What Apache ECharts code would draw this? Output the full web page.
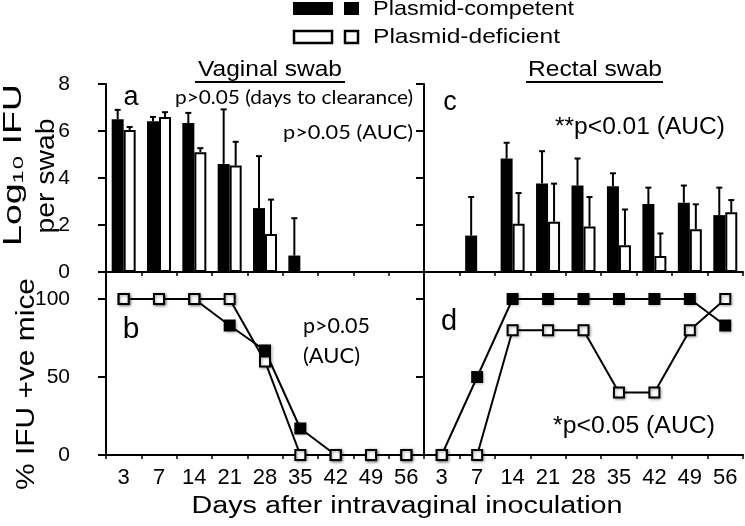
<!DOCTYPE html>
<html><head><meta charset="utf-8">
<script src="https://cdn.jsdelivr.net/npm/echarts@6.0.0/dist/echarts.min.js"></script>
<style>html,body{margin:0;padding:0;background:#fff}#c{width:745px;height:526px}</style>
</head><body><div id="c"></div><script>
// ---- data ----
const days = ['3','7','14','21','28','35','42','49','56'];
const vagCompetent      = [6.5, 6.42, 6.34, 4.6, 2.72, 0.7, 0, 0, 0];
const vagCompetentSD    = [0.4, 0.18, 0.43, 2.32, 2.21, 1.59, 0, 0, 0];
const vagDeficient      = [6.04, 6.6, 5.1, 4.53, 1.62, 0, 0, 0, 0];
const vagDeficientSD    = [0.13, 0.2, 0.17, 1.01, 1.46, 0, 0, 0, 0];
const rectCompetent     = [0, 1.55, 4.83, 3.77, 3.68, 3.65, 2.89, 2.95, 2.42];
const rectCompetentSD   = [0, 1.64, 0.67, 1.37, 1.15, 0.55, 0.7, 0.73, 1.17];
const rectDeficient     = [0, 0, 2.05, 2.14, 1.94, 1.14, 0.68, 1.82, 2.54];
const rectDeficientSD   = [0, 0, 1.31, 1.62, 1.25, 1.52, 0.96, 1.06, 0.52];
const vagPctCompetent   = [100, 100, 100, 83, 67, 17, 0, 0, 0];
const vagPctDeficient   = [100, 100, 100, 100, 60, 0, 0, 0, 0];
const rectPctCompetent  = [0, 50, 100, 100, 100, 100, 100, 100, 83];
const rectPctDeficient  = [0, 0, 80, 80, 80, 40, 40, 80, 100];
const logTicks = [0, 2, 4, 6, 8];
const pctTicks = [0, 50, 100];

// ---- style helpers ----
const SANS = '"Liberation Sans", "DejaVu Sans", Arial, sans-serif';
const CAL = 'Lato, "Liberation Sans", sans-serif';
const BAR_W = 12;
const mctx = document.createElement('canvas').getContext('2d');
function textW(str, size, fam) { mctx.font = size + 'px ' + fam; return mctx.measureText(str).width; }
function txt(str, x, y, size, fam, w, align, extra) {
  const sx = w ? w / textW(str, size, fam) : 1;
  return Object.assign({type: 'text', x: x, y: y, scaleX: sx, silent: true,
    style: {text: str, fontSize: size, fontFamily: fam, fill: '#000', align: align || 'left', verticalAlign: 'middle'}}, extra || {});
}

const axisLineStyle = {color: '#000', width: 2};
function xAx(gi, showLabels) {
  return {type: 'category', gridIndex: gi, data: days, boundaryGap: true,
    axisLine: {show: true, lineStyle: axisLineStyle},
    axisTick: {show: true, length: 4, lineStyle: {color: '#000', width: 1.5}},
    axisLabel: {show: showLabels, color: '#000', fontSize: 22, fontFamily: SANS, margin: 12},
    splitLine: {show: false}};
}
function yLog(gi, showLabels) {
  return {type: 'value', gridIndex: gi, min: 0, max: 8, interval: 2,
    axisLine: {show: true, lineStyle: axisLineStyle},
    axisTick: {show: true, length: 8, customValues: logTicks, lineStyle: {color: '#000', width: 2}},
    axisLabel: {show: showLabels, customValues: logTicks, color: '#000', fontSize: 21, fontFamily: SANS, margin: 36},
    splitLine: {show: false}};
}
function yPct(gi, showLabels) {
  return {type: 'value', gridIndex: gi, min: 0, max: 117.3, interval: 50,
    axisLine: {show: true, lineStyle: axisLineStyle},
    axisTick: {show: true, length: 8, customValues: pctTicks, lineStyle: {color: '#000', width: 2}},
    axisLabel: {show: showLabels, customValues: pctTicks, color: '#000', fontSize: 21, fontFamily: SANS, margin: 36},
    splitLine: {show: false}};
}
function bars(gi, vals, filled) {
  return {type: 'bar', xAxisIndex: gi, yAxisIndex: gi, data: vals, barWidth: BAR_W, barGap: '0%', silent: true,
    itemStyle: filled ? {color: '#000'} : {color: '#fff', borderColor: '#000', borderWidth: 2}};
}
function errBars(gi, vals, sds, side) {
  return {type: 'custom', xAxisIndex: gi, yAxisIndex: gi, z: 5, silent: true,
    data: vals.map((v, i) => [i, v, sds[i]]),
    encode: {x: 0, y: 1},
    renderItem: function (params, api) {
      const e = api.value(2);
      if (!e) return null;
      const v = api.value(1);
      const p0 = api.coord([api.value(0), v]);
      const p1 = api.coord([api.value(0), v + e]);
      const x = p0[0] + side * BAR_W / 2;
      return {type: 'group', children: [
        {type: 'line', shape: {x1: x, y1: p0[1], x2: x, y2: p1[1]}, style: {stroke: '#000', lineWidth: 2}},
        {type: 'line', shape: {x1: x - 3, y1: p1[1], x2: x + 3, y2: p1[1]}, style: {stroke: '#000', lineWidth: 2}}
      ]};
    }};
}
function pctLine(gi, vals, filled) {
  return {type: 'line', xAxisIndex: gi, yAxisIndex: gi, data: vals, clip: false, silent: true,
    symbol: 'rect', symbolSize: filled ? 12 : 10, z: filled ? 3 : 4,
    lineStyle: {color: '#000', width: 2},
    itemStyle: filled
      ? {color: '#000', shadowColor: 'rgba(0,0,0,0.35)', shadowBlur: 3, shadowOffsetX: 1, shadowOffsetY: 1}
      : {color: '#fff', borderColor: '#000', borderWidth: 2, shadowColor: 'rgba(0,0,0,0.35)', shadowBlur: 3, shadowOffsetX: 1, shadowOffsetY: 1}};
}

const chart = echarts.init(document.getElementById('c'), null, {renderer: 'canvas'});
chart.setOption({
  animation: false,
  backgroundColor: '#fff',
  grid: [
    {left: 106, top: 84, width: 318, height: 188},
    {left: 424, top: 84, width: 319, height: 188},
    {left: 106, top: 272, width: 318, height: 183},
    {left: 424, top: 272, width: 319, height: 183}
  ],
  xAxis: [xAx(0, false), xAx(1, false), xAx(2, true), xAx(3, true)],
  yAxis: [yLog(0, true), yLog(1, false), yPct(2, true), yPct(3, false)],
  series: [
    bars(0, vagCompetent, true), bars(0, vagDeficient, false),
    errBars(0, vagCompetent, vagCompetentSD, -1), errBars(0, vagDeficient, vagDeficientSD, 1),
    bars(1, rectCompetent, true), bars(1, rectDeficient, false),
    errBars(1, rectCompetent, rectCompetentSD, -1), errBars(1, rectDeficient, rectDeficientSD, 1),
    pctLine(2, vagPctCompetent, true), pctLine(2, vagPctDeficient, false),
    pctLine(3, rectPctCompetent, true), pctLine(3, rectPctDeficient, false)
  ],
  graphic: [
    // legend
    {type: 'rect', shape: {x: 293, y: 2, width: 40, height: 13}, style: {fill: '#000'}, silent: true},
    {type: 'rect', shape: {x: 344, y: 2, width: 15, height: 13}, style: {fill: '#000'}, silent: true},
    {type: 'rect', shape: {x: 294, y: 31, width: 38, height: 12}, style: {fill: '#fff', stroke: '#000', lineWidth: 2.5}, silent: true},
    {type: 'rect', shape: {x: 345, y: 31, width: 13, height: 12}, style: {fill: '#fff', stroke: '#000', lineWidth: 2.5}, silent: true},
    txt('Plasmid-competent', 373, 9, 21, SANS, 201),
    txt('Plasmid-deficient', 373, 37, 21, SANS, 187),
    // panel titles
    txt('Vaginal swab', 270, 70, 22, SANS, 144, 'center'),
    {type: 'line', shape: {x1: 195, y1: 82, x2: 345, y2: 82}, style: {stroke: '#000', lineWidth: 2}, silent: true},
    txt('Rectal swab', 595, 70, 22, SANS, 134, 'center'),
    {type: 'line', shape: {x1: 526, y1: 82, x2: 663, y2: 82}, style: {stroke: '#000', lineWidth: 2}, silent: true},
    // panel letters
    txt('a', 131, 98, 27, SANS, 0, 'center'),
    txt('c', 450, 103, 27, SANS, 0, 'center'),
    txt('b', 131, 330, 30, SANS, 0, 'center'),
    txt('d', 449, 322, 29, SANS, 0, 'center'),
    // stats annotations
    txt('p>0.05 (days to clearance)', 175, 98, 20, CAL, 238),
    txt('p>0.05 (AUC)', 283, 133, 20, CAL, 130),
    txt('**p<0.01 (AUC)', 555, 128, 23, SANS, 170),
    txt('p>0.05', 303, 326, 21, CAL, 67),
    txt('(AUC)', 303, 356, 21, CAL, 57),
    txt('*p<0.05 (AUC)', 553, 427, 23, SANS, 162),
    // axis titles
    txt('Log\u2081\u2080 IFU', 14, 165, 25, SANS, 162, 'center', {rotation: Math.PI / 2}),
    txt('per swab', 47, 176, 25, SANS, 115, 'center', {rotation: Math.PI / 2}),
    txt('% IFU +ve mice', 27, 384, 25, SANS, 212, 'center', {rotation: Math.PI / 2}),
    txt('Days after intravaginal inoculation', 407, 507, 23, SANS, 431, 'center')
  ]
});
</script></body></html>
